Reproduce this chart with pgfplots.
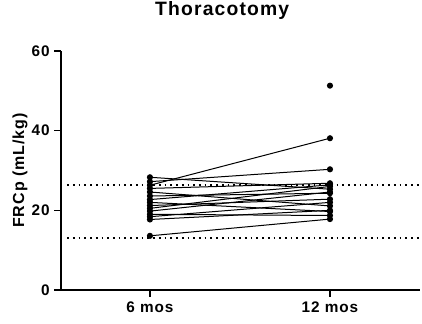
\documentclass[border=0pt]{standalone}
\usepackage{fontspec}
\setmainfont{Liberation Sans}[LetterSpace=6]
\usepackage{pgfplots}
\pgfplotsset{compat=1.18}
\begin{document}
\begin{tikzpicture}[x=1pt,y=1pt]
\begin{axis}[
  at={(0,0)}, anchor=south west,
  scale only axis,
  width=269.25pt, height=179.25pt,
  xmin=-0.494, xmax=1.5,
  ymin=0, ymax=60,
  axis x line=bottom, axis y line=left,
  axis line style={line width=1.5pt, -},
  xtick={0,1}, xticklabels={6 mos,12 mos},
  ytick={0,20,40,60},
  tick align=outside,
  major tick length=5pt,
  tick style={line width=1.2pt, black},
  tick label style={font=\bfseries\fontsize{11.5}{13}\selectfont},
  /pgf/number format/assume math mode=true,
  ylabel={FRCp (mL/kg)},
  ylabel style={font=\bfseries\fontsize{12}{14}\selectfont, at={(axis description cs:-0.114,0.5)}, anchor=center},
  title={Thoracotomy},
  title style={font=\bfseries\fontsize{14.5}{16}\selectfont, at={(axis description cs:0.449,1)}, anchor=base, yshift=21pt},
  clip=false,
]
\addplot[black, line width=1.3pt, dash pattern=on 1.3pt off 3pt] coordinates {(-0.46,26.3) (1.5,26.3)};
\addplot[black, line width=1.3pt, dash pattern=on 1.3pt off 3pt] coordinates {(-0.46,13) (1.5,13)};
\pgfplotsset{pair/.style={black, line width=0.75pt, mark=*, mark size=1.9pt}}
\addplot[pair] coordinates {(0,28.3) (1,25.3)};
\addplot[pair] coordinates {(0,27.2) (1,30.3)};
\addplot[pair] coordinates {(0,26.3) (1,38.1)};
\addplot[pair] coordinates {(0,25.5) (1,26.8)};
\addplot[pair] coordinates {(0,24.6) (1,21.1)};
\addplot[pair] coordinates {(0,23.6) (1,24.3)};
\addplot[pair] coordinates {(0,22.7) (1,26.4)};
\addplot[pair] coordinates {(0,22.0) (1,19.7)};
\addplot[pair] coordinates {(0,21.2) (1,22.8)};
\addplot[pair] coordinates {(0,20.5) (1,26.0)};
\addplot[pair] coordinates {(0,19.8) (1,24.6)};
\addplot[pair] coordinates {(0,19.0) (1,18.7)};
\addplot[pair] coordinates {(0,18.4) (1,22.0)};
\addplot[pair] coordinates {(0,17.7) (1,20.0)};
\addplot[pair] coordinates {(0,13.6) (1,17.8)};
\addplot[pair, only marks] coordinates {(1,51.3)};
\end{axis}
\pgfresetboundingbox
\path[use as bounding box] (-45.75pt,-25.5pt) rectangle (270.75pt,217.5pt);
\end{tikzpicture}
\end{document}
